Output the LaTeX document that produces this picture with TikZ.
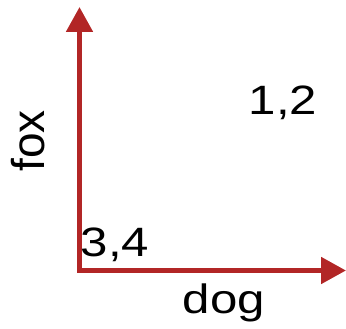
\documentclass[tikz,border=0pt]{standalone}
\usepackage{fontspec}
\setmainfont{Liberation Sans}
\usetikzlibrary{arrows.meta}
\definecolor{axisred}{RGB}{178,38,38}
\begin{document}
\begin{tikzpicture}[x=1pt,y=-1pt,
  axis/.style={draw=axisred,line width=5pt,line join=miter,
    {Triangle[length=25pt,width=26pt]}-{Triangle[length=25pt,width=26pt]}},
  lbl/.style={inner sep=0pt,anchor=base,font=\fontsize{41}{41}\selectfont,xscale=1.2},
  vlbl/.style={inner sep=0pt,anchor=base,font=\fontsize{46}{46}\selectfont,rotate=90}]
\useasboundingbox (0,0) rectangle (346,329);
\coordinate (O) at (79.5,270.5);
\coordinate (Y) at (79.5,7);
\coordinate (X) at (346,270.5);
\draw[axis] (Y) -- (O) -- (X);
\node[lbl] (p12) at (283,115) {1,2};
\node[lbl] (p34) at (115,256) {3,4};
\node[lbl] (dog) at (224,313.5) {dog};
\node[vlbl] (fox) at (45,141) {fox};
\end{tikzpicture}
\end{document}
